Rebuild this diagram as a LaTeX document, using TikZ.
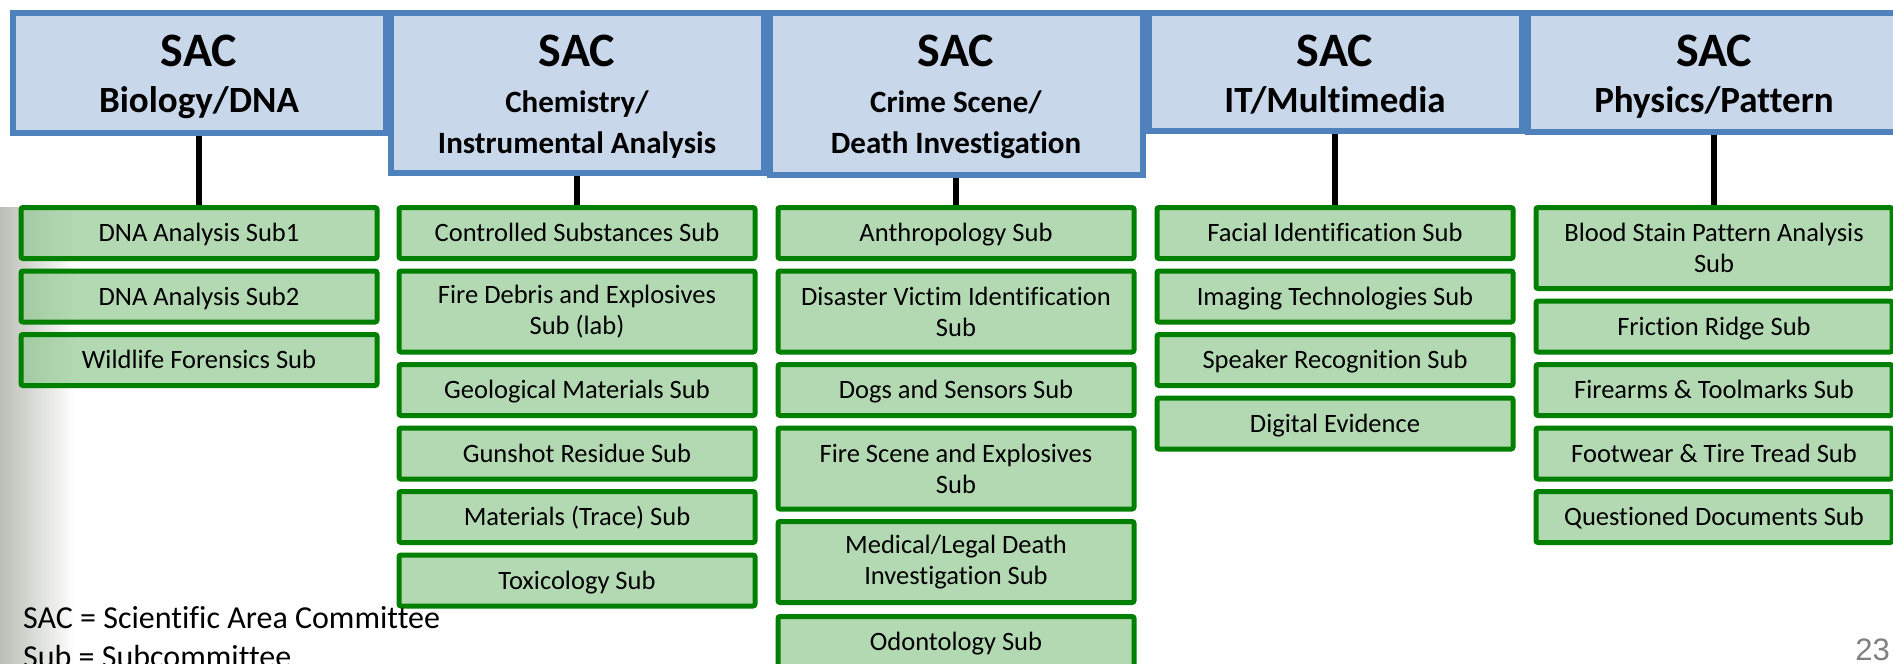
\documentclass[tikz,border=0pt]{standalone}
\usepackage{fontspec}
\setmainfont{Carlito}[Ligatures=NoCommon]
\newfontfamily\pagefont{Liberation Sans}
\usetikzlibrary{positioning}
\definecolor{sacblue}{RGB}{79,129,189}
\definecolor{sacfill}{RGB}{200,215,234}
\definecolor{subgreen}{RGB}{0,128,0}
\definecolor{subfill}{RGB}{146,201,146}
\definecolor{edgegray}{RGB}{186,191,181}
\newcommand*{\sachead}[1]{{\fontsize{48}{48}\selectfont SAC}\\[5pt]#1}

\tikzset{
  sac/.style={draw=sacblue,fill=sacfill,line width=6pt,minimum width=373pt,inner sep=0pt},
  sactitle/.style={font=\bfseries\fontsize{31}{41}\selectfont,align=center,inner sep=0pt},
  sacwide/.style={sactitle,font=\bfseries\fontsize{37}{41}\selectfont},
  sub/.style={draw=subgreen,fill=subfill,fill opacity=0.7,text opacity=1,line width=5pt,
              rounded corners=2pt,minimum width=356pt,minimum height=51pt,inner sep=0pt,
              align=center,font=\fontsize{26.5}{31}\selectfont,text height=20pt,text depth=3pt},
  subtwo/.style={sub,minimum height=81pt,text height={},text depth={}},
  link/.style={line width=6pt,black},
  key/.style={font=\fontsize{32}{39}\selectfont,inner sep=0pt,anchor=base west},
}

\begin{document}
\begin{tikzpicture}[x=1pt,y=-1pt]
\useasboundingbox (0,0) rectangle (1893,664);
% Grey fade on the left edge
\shade[left color=edgegray,right color=white] (0,207) rectangle (75,664);
% SAC boxes
\node[sac,minimum height=120pt] (sacBio) at (199,73) {};
\node[sac,minimum height=160pt] (sacChem) at (577,93) {};
\node[sac,minimum height=162pt] (sacCrime) at (956,94) {};
\node[sac,minimum height=118pt] (sacIT) at (1335,72) {};
\node[sac,minimum height=119pt] (sacPhys) at (1714,72.5) {};
\node[sacwide,below=25pt of sacBio.north] (sacBioT) {\sachead{Biology/DNA}};
\node[sactitle,below=25pt of sacChem.north] (sacChemT) {\sachead{Chemistry/\\Instrumental Analysis}};
\node[sactitle,below=25pt of sacCrime.north] (sacCrimeT) {\sachead{Crime Scene/\\Death Investigation}};
\node[sacwide,below=25pt of sacIT.north] (sacITT) {\sachead{IT/Multimedia}};
\node[sacwide,below=25pt of sacPhys.north] (sacPhysT) {\sachead{Physics/Pattern}};
% Biology/DNA subs
\node[sub] (dnaOne) at (199,233) {DNA Analysis Sub1};
\node[sub,below=7.5pt of dnaOne] (dnaTwo) {DNA Analysis Sub2};
\node[sub,below=7.5pt of dnaTwo] (wildlife) {Wildlife Forensics Sub};
% Chemistry subs
\node[sub] (controlled) at (577,233) {Controlled Substances Sub};
\node[subtwo,below=7.5pt of controlled] (fireDebris) {Fire Debris and Explosives\\Sub (lab)};
\node[sub,below=7.5pt of fireDebris] (geological) {Geological Materials Sub};
\node[sub,below=7.5pt of geological] (gunshot) {Gunshot Residue Sub};
\node[sub,below=7.5pt of gunshot] (trace) {Materials (Trace) Sub};
\node[sub,below=7.5pt of trace] (toxicology) {Toxicology Sub};
% Crime scene subs
\node[sub] (anthro) at (956,233) {Anthropology Sub};
\node[subtwo,below=7.5pt of anthro] (disaster) {Disaster Victim Identification\\Sub};
\node[sub,below=7.5pt of disaster] (dogs) {Dogs and Sensors Sub};
\node[subtwo,below=7.5pt of dogs] (fireScene) {Fire Scene and Explosives\\Sub};
\node[subtwo,below=7.5pt of fireScene] (medLegal) {Medical/Legal Death\\Investigation Sub};
\node[sub,below=9pt of medLegal] (odonto) {Odontology Sub};
% IT subs
\node[sub] (facial) at (1335,233) {Facial Identification Sub};
\node[sub,below=7.5pt of facial] (imaging) {Imaging Technologies Sub};
\node[sub,below=7.5pt of imaging] (speaker) {Speaker Recognition Sub};
\node[sub,below=7.5pt of speaker] (digital) {Digital Evidence};
% Physics subs
\node[subtwo] (bloodStain) at (1714,248) {Blood Stain Pattern Analysis\\Sub};
\node[sub,below=7.5pt of bloodStain] (friction) {Friction Ridge Sub};
\node[sub,below=7.5pt of friction] (firearms) {Firearms \& Toolmarks Sub};
\node[sub,below=7.5pt of firearms] (footwear) {Footwear \& Tire Tread Sub};
\node[sub,below=7.5pt of footwear] (questioned) {Questioned Documents Sub};
% Links
\draw[link] (sacBio) -- (dnaOne);
\draw[link] (sacChem) -- (controlled);
\draw[link] (sacCrime) -- (anthro);
\draw[link] (sacIT) -- (facial);
\draw[link] (sacPhys) -- (bloodStain);
% Key and page number
\node[key] (keySac) at (23,628) {SAC = Scientific Area Committee};
\node[key] (keySub) at (23,667) {Sub = Subcommittee};
\node[font=\pagefont\fontsize{31}{31}\selectfont,text=gray,inner sep=0pt,anchor=base east] (pageNo) at (1890,660) {23};
\end{tikzpicture}
\end{document}
